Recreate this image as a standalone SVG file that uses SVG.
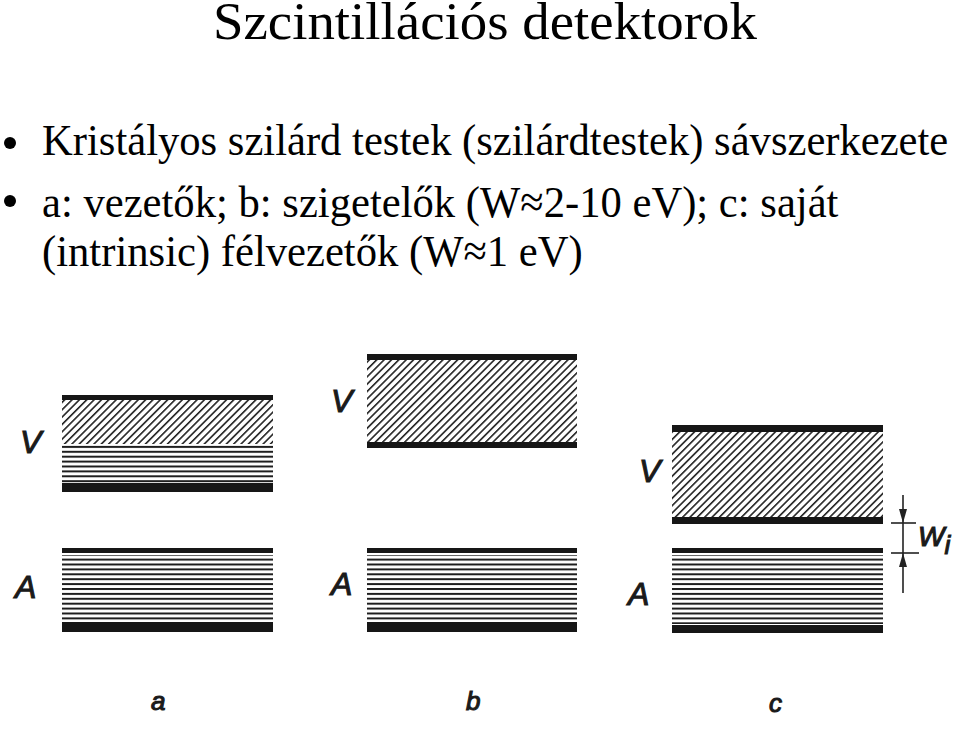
<svg xmlns="http://www.w3.org/2000/svg" width="960" height="743" viewBox="0 0 960 743">
<style>
.ttl{font-family:"Liberation Serif","Times New Roman",serif;font-size:52px;fill:#000}
.body{font-family:"Liberation Serif","Times New Roman",serif;font-size:45px;fill:#000}
.hand{font-family:"Liberation Sans",Arial,sans-serif;font-style:italic;fill:#1a1a1a;stroke:#1a1a1a;stroke-width:1.1}
.bar{fill:#161616}
.hatch{fill:url(#diag)}
.lines{fill:url(#horiz)}
.dim{stroke:#222;stroke-width:1.6;fill:none}
</style>
<defs>
<pattern id="diag" patternUnits="userSpaceOnUse" width="5.2" height="10" patternTransform="rotate(45)">
<rect x="0" y="0" width="1.6" height="10" fill="#222"/>
</pattern>
<pattern id="horiz" patternUnits="userSpaceOnUse" width="10" height="4.9">
<rect x="0" y="0" width="10" height="2" fill="#1e1e1e"/>
</pattern>
</defs>
<rect width="960" height="743" fill="#fff"/>

<g id="title">
<text class="ttl" transform="translate(213,39) scale(1.054,1)" x="0" y="0" textLength="516" lengthAdjust="spacingAndGlyphs">Szcintillációs detektorok</text>
</g>

<g id="bullets">
<circle cx="10" cy="143" r="6" fill="#000"/>
<text class="body" transform="translate(42,155) scale(0.947,1)" x="0" y="0" textLength="957" lengthAdjust="spacingAndGlyphs">Kristályos szilárd testek (szilárdtestek) sávszerkezete</text>
<circle cx="10" cy="201" r="6" fill="#000"/>
<text class="body" transform="translate(42,217) scale(0.947,1)" x="0" y="0" textLength="841" lengthAdjust="spacingAndGlyphs">a: vezetők; b: szigetelők (W≈2-10 eV); c: saját</text>
<text class="body" transform="translate(42,266) scale(0.947,1)" x="0" y="0" textLength="571" lengthAdjust="spacingAndGlyphs">(intrinsic) félvezetők (W≈1 eV)</text>
</g>

<g id="band-a-V">
<rect class="bar" x="62" y="395" width="211" height="5"/>
<rect class="hatch" x="62" y="400" width="211" height="44"/>
<rect class="lines" x="62" y="444" width="211" height="39"/>
<rect class="bar" x="62" y="483" width="211" height="9"/>
</g>
<g id="band-a-A">
<rect class="bar" x="62" y="548" width="211" height="5"/>
<rect class="lines" x="62" y="555" width="211" height="67"/>
<rect class="bar" x="62" y="622" width="211" height="10"/>
</g>

<g id="band-b-V">
<rect class="bar" x="367" y="354" width="210" height="6"/>
<rect class="hatch" x="367" y="360" width="210" height="82"/>
<rect class="bar" x="367" y="442" width="210" height="6"/>
</g>
<g id="band-b-A">
<rect class="bar" x="367" y="548" width="210" height="5"/>
<rect class="lines" x="367" y="555" width="210" height="67"/>
<rect class="bar" x="367" y="622" width="210" height="10"/>
</g>

<g id="band-c-V">
<rect class="bar" x="672" y="425" width="211" height="7"/>
<rect class="hatch" x="672" y="432" width="211" height="85"/>
<rect class="bar" x="672" y="517" width="211" height="7"/>
</g>
<g id="band-c-A">
<rect class="bar" x="672" y="548" width="211" height="5"/>
<rect class="lines" x="672" y="555" width="211" height="69"/>
<rect class="bar" x="672" y="625" width="211" height="8"/>
</g>

<g id="labels">
<text class="hand" x="20" y="453" font-size="32">V</text>
<text class="hand" x="15" y="598" font-size="32">A</text>
<text class="hand" x="331" y="412" font-size="32">V</text>
<text class="hand" x="331" y="595" font-size="32">A</text>
<text class="hand" x="639" y="482" font-size="32">V</text>
<text class="hand" x="628" y="605" font-size="32">A</text>
<text class="hand" x="151" y="710" font-size="26">a</text>
<text class="hand" x="466" y="710" font-size="26">b</text>
<text class="hand" x="769" y="712" font-size="26">c</text>
</g>

<g id="connectors">
<line class="dim" x1="903" y1="495" x2="903" y2="593"/>
<line class="dim" x1="891" y1="523" x2="916" y2="523"/>
<line class="dim" x1="891" y1="553" x2="919" y2="553"/>
<polygon points="899,509 907,509 903,523" fill="#222"/>
<polygon points="899,567 907,567 903,553" fill="#222"/>
</g>

<g id="wi-label">
<text class="hand" x="918" y="546" font-size="28">W<tspan font-size="26" dy="8">i</tspan></text>
</g>
</svg>
